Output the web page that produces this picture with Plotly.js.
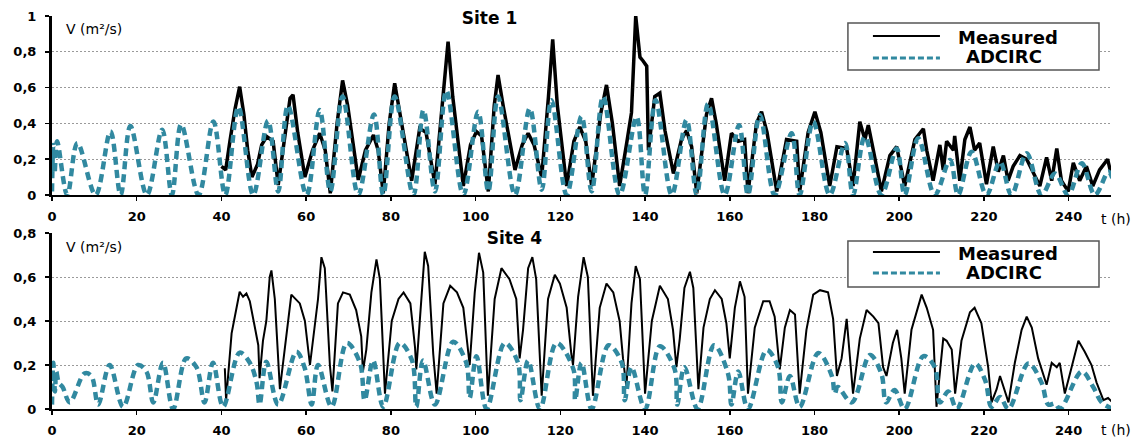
<!DOCTYPE html>
<html><head><meta charset="utf-8">
<script src="https://cdn.plot.ly/plotly-3.0.1.min.js"></script>
<style>html,body{margin:0;padding:0;background:#fff}</style>
</head><body><div id="chart" style="width:1136px;height:439px"></div>
<script>
// ---------------- DATA ----------------
const xTickVals = [0,20,40,60,80,100,120,140,160,180,200,220,240];
const seriesNames = ['Measured','ADCIRC'];
const siteTitles = ['Site 1','Site 4'];

const site1AdcT = [0,0.3,0.6,1.2,3.6,6.0,10.3,13.8,16.2,18.5,22.4,26.0,28.3,30.5,34.6,38.1,40.9,44.0,47.5,51.0,53.4,55.7,60.1,63.2,65.7,68.6,72.3,76.0,78.2,80.9,85.3,87.7,90.4,93.1,97.1,100.6,103.0,105.3,109.3,112.8,115.6,117.9,121.5,125.0,127.4,130.1,134.0,138.0,140.0,142.5,146.3,149.8,152.2,154.9,158.8,162.2,164.3,167.1,170.6,174.6,176.5,179.7,183.6,187.2,189.1,191.9,195.8,199.4,201.3,204.5,208.4,212.0,213.9,217.1,220.6,223.8,226.5,230.1,233.6,236.8,239.9,243.1,246.2,249.4,250.5];
const site1AdcV = [0.02,0.28,0.12,0.30,0,0.29,0,0.355,0,0.385,0,0.365,0,0.395,0,0.41,0,0.493,0,0.415,0.02,0.50,0,0.475,0.02,0.55,0,0.45,0,0.55,0,0.475,0.02,0.583,0,0.465,0.02,0.55,0,0.484,0.03,0.53,0,0.44,0.02,0.55,0,0.437,0,0.53,0,0.42,0,0.51,0,0.39,0,0.447,0,0.345,0,0.41,0,0.29,0,0.326,0,0.26,0,0.317,0,0.196,0,0.242,0,0.186,0,0.233,0,0.12,0,0.177,0,0.13,0.08];

const site1MeasT = [40.0,41.0,42.0,43.2,44.3,45.3,46.2,47.2,48.5,49.5,50.7,52.2,53.4,55.0,56.2,56.9,58.0,59.7,61.5,63.2,64.5,65.7,67.3,68.6,69.8,72.3,74.0,75.9,77.0,78.2,79.6,80.9,82.5,84.9,86.8,88.3,90.4,92.3,93.5,94.6,97.1,98.8,100.2,101.4,103.0,104.4,105.3,106.5,109.3,111.0,112.4,113.8,115.6,117.2,118.2,119.3,121.5,123.2,124.6,126.0,127.4,129.5,130.9,132.3,134.0,135.6,136.8,137.8,138.8,139.5,140.4,140.8,142.3,143.5,144.7,146.7,148.6,149.8,151.0,152.2,154.5,155.7,156.8,158.8,160.4,162.0,163.5,164.3,166.3,167.5,168.8,171.1,173.4,175.8,176.5,178.5,180.1,181.5,183.6,185.3,187.6,189.1,190.7,191.9,192.7,193.9,195.8,197.8,199.4,201.3,203.7,205.7,206.5,208.0,209.6,210.4,211.2,212.8,213.1,214.3,215.5,216.7,217.8,219.0,220.6,222.2,223.4,224.6,225.7,226.9,228.5,230.1,231.6,233.2,234.8,236.0,237.2,238.3,239.9,241.1,242.6,244.2,245.7,247.3,249.2,250.0];
const site1MeasV = [0.16,0.14,0.30,0.48,0.605,0.45,0.25,0.10,0.17,0.28,0.326,0.30,0.056,0.35,0.54,0.56,0.35,0.10,0.25,0.345,0.25,0.01,0.40,0.64,0.50,0.084,0.25,0.335,0.25,0.01,0.40,0.624,0.40,0.08,0.372,0.35,0.06,0.55,0.857,0.55,0.05,0.28,0.354,0.33,0.02,0.50,0.67,0.50,0.14,0.28,0.345,0.28,0.10,0.55,0.87,0.50,0.05,0.30,0.38,0.30,0.05,0.45,0.615,0.40,0.05,0.28,0.46,1.0,0.77,0.75,0.72,0.25,0.55,0.57,0.36,0.12,0.31,0.36,0.27,0.01,0.45,0.54,0.40,0.08,0.345,0.30,0.31,0.01,0.40,0.465,0.35,0.02,0.31,0.30,0.02,0.35,0.465,0.35,0.05,0.27,0.26,0.05,0.41,0.31,0.39,0.25,0.02,0.22,0.27,0.05,0.31,0.37,0.25,0.08,0.28,0.14,0.30,0.25,0.33,0.08,0.31,0.38,0.25,0.29,0.06,0.27,0.13,0.22,0.08,0.16,0.22,0.20,0.13,0.05,0.21,0.08,0.26,0.08,0.02,0.18,0.08,0.16,0.05,0.14,0.20,0.12];

const site4AdcT = [0,0.3,0.7,1.0,1.6,2.5,4.2,7.7,9.3,10.9,13.6,16.8,20.3,22.3,23.9,26.2,28.6,31.7,34.1,36.0,38.0,40.4,44.3,46.7,48.3,49.0,50.6,53.4,57.7,59.6,61.3,62.8,66.0,69.6,72.7,73.8,75.8,78.2,82.1,85.0,86.0,87.6,90.4,94.7,97.8,98.6,100.2,102.6,106.9,110.0,110.6,112.4,115.2,119.1,123.1,123.5,125.0,127.4,131.4,134.5,135.2,136.8,140.0,143.5,147.0,147.6,149.3,152.4,156.3,159.6,160.4,162.0,164.3,168.7,171.4,172.3,174.2,176.5,180.9,184.1,184.8,185.5,188.8,193.1,195.8,196.9,198.9,201.3,205.7,208.4,209.6,211.6,213.6,217.9,220.3,221.8,223.8,225.8,230.5,233.6,235.2,236.8,238.0,243.1,245.8,247.8,250.5];
const site4AdcV = [0.02,0.21,0.08,0.17,0.12,0.10,0.03,0.162,0.15,0.02,0.20,0.01,0.20,0.17,0.03,0.21,0,0.23,0.19,0.03,0.21,0.01,0.256,0.21,0.12,0.02,0.215,0.02,0.26,0.19,0.02,0.20,0.01,0.30,0.21,0.04,0.22,0.01,0.30,0.22,0.01,0.22,0.02,0.306,0.21,0.05,0.24,0,0.30,0.21,0.04,0.22,0,0.30,0.18,0.04,0.21,0,0.29,0.21,0.04,0.19,0,0.285,0.18,0.02,0.19,0,0.29,0.16,0.02,0.17,0,0.268,0.19,0.03,0.15,0.01,0.255,0.15,0.07,0.10,0.03,0.245,0.16,0.03,0.086,0,0.24,0.19,0.03,0.08,0,0.207,0.13,0.01,0.055,0,0.207,0.12,0.02,0.025,0,0.17,0.10,0.03,0];

const site4MeasT = [40.8,41.1,42.4,43.2,44.3,45.1,45.9,46.7,47.5,48.7,49.0,49.8,50.6,51.4,51.8,52.6,53.8,55.3,56.5,58.5,59.7,60.9,61.6,62.8,63.6,64.4,65.6,66.2,67.5,68.7,70.3,71.8,73.0,73.4,74.2,75.4,76.6,77.4,78.6,80.2,81.8,83.0,84.6,85.7,86.0,86.9,88.0,88.8,90.0,90.8,92.4,94.0,95.6,97.1,98.3,98.6,99.8,100.8,101.8,102.9,104.5,106.1,108.0,109.6,110.4,111.2,112.4,113.4,114.3,115.6,117.1,118.7,119.9,121.5,122.6,123.0,124.2,125.5,126.5,127.7,129.3,130.9,132.5,134.0,134.8,135.6,136.8,137.8,138.8,140.0,141.6,143.5,145.4,146.6,147.4,148.2,149.3,150.6,151.4,152.6,153.8,155.3,156.5,158.1,159.2,160.0,161.2,162.4,163.5,164.3,165.9,167.9,169.4,170.6,171.8,173.0,174.2,175.4,176.5,178.1,179.7,181.3,183.2,184.4,185.3,186.4,187.6,188.4,189.1,190.7,192.3,193.9,195.1,196.2,197.0,198.5,199.5,200.5,201.3,202.9,205.3,206.5,208.0,208.8,210.4,211.2,212.4,213.2,214.7,216.7,217.8,219.4,221.0,221.8,223.0,223.8,224.6,225.8,227.3,228.9,230.1,231.3,232.8,234.8,236.0,237.2,237.9,239.1,240.7,242.3,243.8,245.4,246.6,248.2,249.3,250.4];
const site4MeasV = [0.185,0.04,0.344,0.43,0.533,0.51,0.525,0.49,0.405,0.29,0.14,0.31,0.40,0.60,0.63,0.50,0.09,0.33,0.52,0.48,0.40,0.20,0.32,0.50,0.69,0.64,0.20,0.08,0.48,0.53,0.52,0.45,0.33,0.17,0.27,0.53,0.68,0.59,0.07,0.40,0.50,0.53,0.48,0.28,0.18,0.43,0.715,0.65,0.25,0.07,0.48,0.56,0.53,0.46,0.25,0.20,0.53,0.71,0.62,0.06,0.50,0.64,0.59,0.50,0.23,0.36,0.64,0.69,0.59,0.06,0.50,0.61,0.57,0.46,0.25,0.20,0.51,0.69,0.60,0.06,0.46,0.57,0.53,0.40,0.23,0.10,0.48,0.65,0.59,0.07,0.40,0.56,0.50,0.36,0.19,0.32,0.55,0.624,0.55,0.09,0.37,0.50,0.54,0.50,0.39,0.23,0.46,0.58,0.51,0.07,0.37,0.49,0.49,0.42,0.18,0.37,0.45,0.43,0.07,0.36,0.52,0.54,0.53,0.41,0.15,0.23,0.41,0.23,0.07,0.32,0.45,0.42,0.39,0.19,0.15,0.30,0.36,0.23,0.07,0.36,0.52,0.46,0.36,0.01,0.32,0.31,0.27,0.07,0.31,0.44,0.46,0.39,0.19,0.03,0.09,0.15,0.10,0.03,0.21,0.36,0.42,0.37,0.23,0.11,0.21,0.19,0.21,0.07,0.19,0.31,0.26,0.20,0.12,0.04,0.05,0.03];

// ---------------- STYLE / LAYOUT ----------------
const W = 1136, H = 439;
const L = 52.3, R = 1111, T = 16, B = 409;
const px = p => (p - L) / (R - L);
const py = p => (B - p) / (B - T);
const TEAL = '#3189a0';
const FONT = 'DejaVu Sans, Verdana, sans-serif';

const traces = [
  {x: site1MeasT, y: site1MeasV, xaxis:'x', yaxis:'y', name: seriesNames[0], mode:'lines', showlegend:false,
   line:{color:'#000', width:3.5}},
  {x: site1AdcT, y: site1AdcV, xaxis:'x', yaxis:'y', name: seriesNames[1], mode:'lines', showlegend:false,
   line:{color:TEAL, width:4.5, dash:'8px,5px', shape:'spline', smoothing:1}},
  {x: site4MeasT, y: site4MeasV, xaxis:'x2', yaxis:'y2', name: seriesNames[0], mode:'lines', showlegend:false,
   line:{color:'#000', width:2}},
  {x: site4AdcT, y: site4AdcV, xaxis:'x2', yaxis:'y2', name: seriesNames[1], mode:'lines', showlegend:false,
   line:{color:TEAL, width:4.5, dash:'8px,5px', shape:'spline', smoothing:1}}
];

function xAxis(anchor){
  return {anchor:anchor, domain:[0,1], range:[0,250], tickvals:xTickVals, ticktext:xTickVals.map(String),
    ticks:'outside', ticklen:4, tickwidth:1.5, tickcolor:'#000',
    showline:true, linecolor:'#000', linewidth:2, showgrid:false, zeroline:false,
    tickfont:{family:FONT, size:13, color:'#000', weight:'bold'}, ticklabelstandoff:4, fixedrange:true};
}
function yAxis(anchor, domain, range){
  return {anchor:anchor, domain:domain, range:range, dtick:0.2, tick0:0,
    ticks:'outside', ticklen:4, tickwidth:1.5, tickcolor:'#000',
    showline:true, linecolor:'#000', linewidth:3, zeroline:false,
    showgrid:true, gridcolor:'#9a9a9a', gridwidth:1, griddash:'2px,2px',
    tickfont:{family:FONT, size:13, color:'#000', weight:'bold'}, ticklabelstandoff:6, fixedrange:true};
}

const shapes = [];
const annotations = [];
function legendBox(y0, y1, yM, yA){
  shapes.push({type:'rect', xref:'paper', yref:'paper', x0:px(848), x1:px(1099), y0:py(y1), y1:py(y0),
    fillcolor:'#fff', line:{color:'#555', width:1.5}, layer:'above'});
  shapes.push({type:'line', xref:'paper', yref:'paper', x0:px(873), x1:px(940), y0:py(yM), y1:py(yM),
    line:{color:'#000', width:2}, layer:'above'});
  shapes.push({type:'line', xref:'paper', yref:'paper', x0:px(873), x1:px(940), y0:py(yA+1), y1:py(yA+1),
    line:{color:TEAL, width:3, dash:'6px,3px'}, layer:'above'});
  annotations.push({xref:'paper', yref:'paper', x:px(1008), y:py(yM+1.5), xanchor:'center', yanchor:'middle',
    text:seriesNames[0], showarrow:false, font:{family:FONT, size:18, color:'#000', weight:'bold'}});
  annotations.push({xref:'paper', yref:'paper', x:px(1004), y:py(yA), xanchor:'center', yanchor:'middle',
    text:seriesNames[1], showarrow:false, font:{family:FONT, size:18, color:'#000', weight:'bold'}});
}
legendBox(23, 70, 36, 57);
legendBox(241, 287, 252, 272);

// site titles with white box interrupting gridline
annotations.push({xref:'paper', yref:'paper', x:px(490), y:py(18), xanchor:'center', yanchor:'middle',
  text:siteTitles[0], showarrow:false, bgcolor:'#fff', width:185, height:20,
  font:{family:FONT, size:17, color:'#000', weight:'bold'}});
annotations.push({xref:'paper', yref:'paper', x:px(515), y:py(238), xanchor:'center', yanchor:'middle',
  text:siteTitles[1], showarrow:false, bgcolor:'#fff', width:155, height:20,
  font:{family:FONT, size:17, color:'#000', weight:'bold'}});

// axis titles
[28.5, 247].forEach(yy=>{
  annotations.push({xref:'paper', yref:'paper', x:px(64), y:py(yy), xanchor:'left', yanchor:'middle',
    text:'V (m²/s)', showarrow:false, font:{family:FONT, size:14, color:'#000'}});
});
[219, 430].forEach(yy=>{
  annotations.push({xref:'paper', yref:'paper', x:px(1099), y:py(yy), xanchor:'left', yanchor:'middle',
    text:'t (h)', showarrow:false, font:{family:FONT, size:14, color:'#000'}});
});

const layout = {
  width:W, height:H,
  margin:{l:L, r:W-R, t:T, b:H-B, pad:0},
  paper_bgcolor:'#fff', plot_bgcolor:'#fff',
  separators:',.',
  showlegend:false,
  font:{family:FONT, size:13, color:'#000'},
  xaxis: xAxis('y'),
  yaxis: yAxis('x', [py(195), 1], [0,1]),
  xaxis2: xAxis('y2'),
  yaxis2: yAxis('x2', [0, py(233)], [0,0.8]),
  shapes: shapes,
  annotations: annotations
};

Plotly.newPlot('chart', traces, layout, {displayModeBar:false, staticPlot:true});
</script>
</body></html>
